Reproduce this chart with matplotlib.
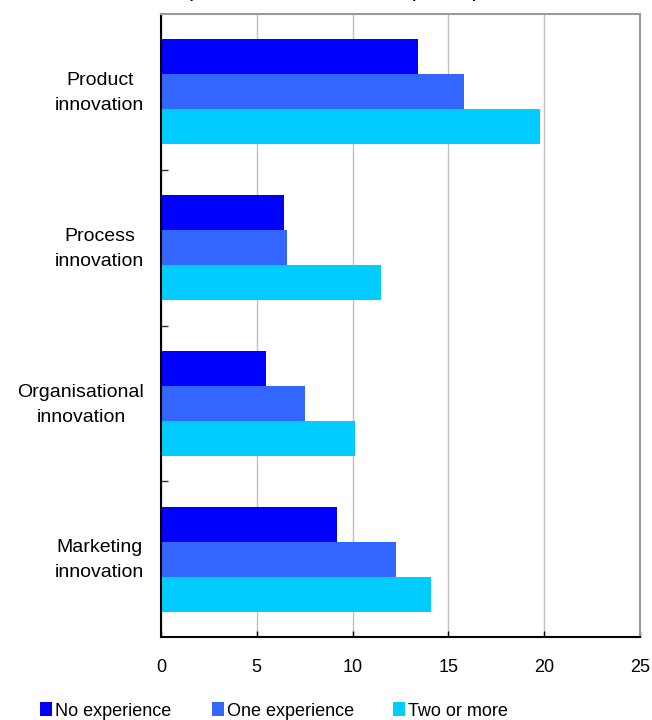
import matplotlib
matplotlib.use("Agg")
import matplotlib.pyplot as plt
import numpy as np

plt.rcParams['font.family'] = ['Liberation Sans', 'DejaVu Sans']

# Share of firms introducing each innovation type, by prior experience
categories = ["Product\ninnovation", "Process\ninnovation",
              "Organisational\ninnovation", "Marketing\ninnovation"]
series_names = ["No experience", "One experience", "Two or more"]
no_experience = [13.4, 6.4, 5.5, 9.2]
one_experience = [15.8, 6.6, 7.5, 12.25]
two_or_more = [19.8, 11.5, 10.1, 14.1]
x_ticks = [0, 5, 10, 15, 20, 25]
title = "(in % of firms with innovation experience)"

colors = ["#0000FF", "#3366FF", "#00CCFF"]
series = [no_experience, one_experience, two_or_more]

fig = plt.figure(figsize=(6.52, 7.2), dpi=100)
ax = fig.add_axes([161 / 652, 1 - 637 / 720, 479 / 652, 623 / 720])

pos = np.arange(len(categories))
h = 0.2244
bars = []
for i, (vals, name, c) in enumerate(zip(series, series_names, colors)):
    bars.append(ax.barh(pos + (i - 1) * h, vals, height=h, color=c,
                        label=name, zorder=2, linewidth=0))

ax.set_xlim(0, 25)
ax.set_ylim(3.5, -0.5)
ax.set_xticks(x_ticks)
ax.set_xticklabels([str(t) for t in x_ticks])
# category labels sit slightly above each group's centre
ax.set_yticks(pos - 0.03)
ax.set_yticklabels(categories, multialignment="center", linespacing=1.6)
ax.set_yticks([0.5, 1.5, 2.5], minor=True)

ax.tick_params(axis="x", direction="in", length=4, width=1, pad=16,
               labelsize=13, colors="black", top=False)
ax.tick_params(axis="y", which="major", length=0, pad=12, labelsize=14)
ax.tick_params(axis="y", which="minor", direction="in", length=5, width=1,
               color="#333333")

ax.grid(axis="x", color="#C0C0C0", linewidth=1, zorder=0)
ax.set_axisbelow(True)

for side in ["top", "right"]:
    ax.spines[side].set_color("#999999")
    ax.spines[side].set_linewidth(1.5)
for side in ["left", "bottom"]:
    ax.spines[side].set_color("black")
    ax.spines[side].set_linewidth(1.5)

fig.text(0.511, 1.0 + 1.5 / 720, title, ha="center", va="baseline",
         fontsize=10.5, fontweight="bold")

# one legend entry per series, spread along the bottom edge
legend_x = [40 / 652, 212 / 652, 393 / 652]
for b, name, lx in zip(bars, series_names, legend_x):
    fig.legend([b], [name], loc="center left",
               bbox_to_anchor=(lx, 1 - 711 / 720), frameon=False,
               fontsize=13, handlelength=0.65, handleheight=0.8,
               handletextpad=0.2, borderpad=0, borderaxespad=0)

fig.savefig("out.png", dpi=100)
